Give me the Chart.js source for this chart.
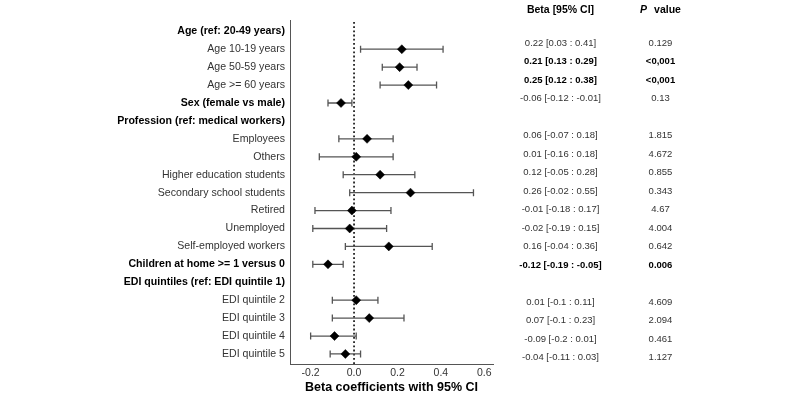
<!DOCTYPE html>
<html><head><meta charset="utf-8">
<script src="https://cdn.jsdelivr.net/npm/chart.js@4"></script>
<style>html,body{margin:0;padding:0;background:#fff}#wrap{width:800px;height:400px}</style>
</head><body><div id="wrap"><canvas id="c" width="800" height="400"></canvas></div>
<script>
const rowLabels = [
  'Age (ref: 20-49 years)', 'Age 10-19 years', 'Age 50-59 years', 'Age >= 60 years',
  'Sex (female vs male)', 'Profession (ref: medical workers)', 'Employees', 'Others',
  'Higher education students', 'Secondary school students', 'Retired', 'Unemployed',
  'Self-employed workers', 'Children at home >= 1 versus 0', 'EDI quintiles (ref: EDI quintile 1)',
  'EDI quintile 2', 'EDI quintile 3', 'EDI quintile 4', 'EDI quintile 5'
];
const boldLabelRows = [0, 4, 5, 13, 14];
const beta   = [null, 0.22, 0.21, 0.25, -0.06, null, 0.06, 0.01, 0.12, 0.26, -0.01, -0.02, 0.16, -0.12, null, 0.01, 0.07, -0.09, -0.04];
const ciLow  = [null, 0.03, 0.13, 0.12, -0.12, null, -0.07, -0.16, -0.05, -0.02, -0.18, -0.19, -0.04, -0.19, null, -0.1, -0.1, -0.2, -0.11];
const ciHigh = [null, 0.41, 0.29, 0.38, -0.01, null, 0.18, 0.18, 0.28, 0.55, 0.17, 0.15, 0.36, -0.05, null, 0.11, 0.23, 0.01, 0.03];
const pValues = ['', '0.129', '<0,001', '<0,001', '0.13', '', '1.815', '4.672', '0.855', '0.343', '4.67', '4.004', '0.642', '0.006', '', '4.609', '2.094', '0.461', '1.127'];
const boldTableRows = [2, 3, 13];
const tickValues = [-0.2, 0, 0.2, 0.4, 0.6];
const tickLabels = ['-0.2', '0.0', '0.2', '0.4', '0.6'];
const xTitle = 'Beta coefficients with 95% CI';
const headerBeta = 'Beta [95% CI]';
const headerP = ['P', 'value'];

const FONT = '"Liberation Sans", Arial, sans-serif';

const points = [];
beta.forEach((b, i) => { if (b !== null) points.push({ x: b, y: i }); });

const forestPlugin = {
  id: 'forest',
  beforeDatasetsDraw(chart) {
    const { ctx, chartArea, scales: { x, y } } = chart;
    ctx.save();
    const x0 = x.getPixelForValue(0);
    ctx.strokeStyle = '#222';
    ctx.lineWidth = 1.8;
    ctx.setLineDash([1.8, 2.4]);
    ctx.beginPath();
    ctx.moveTo(x0, chartArea.top + 2);
    ctx.lineTo(x0, chartArea.bottom);
    ctx.stroke();
    ctx.setLineDash([]);
    ctx.strokeStyle = '#555';
    ctx.lineWidth = 1.3;
    beta.forEach((b, i) => {
      if (b === null) return;
      const yp = y.getPixelForValue(i);
      const xl = x.getPixelForValue(ciLow[i]);
      const xh = x.getPixelForValue(ciHigh[i]);
      ctx.beginPath();
      ctx.moveTo(xl, yp); ctx.lineTo(xh, yp);
      ctx.moveTo(xl, yp - 3.5); ctx.lineTo(xl, yp + 3.5);
      ctx.moveTo(xh, yp - 3.5); ctx.lineTo(xh, yp + 3.5);
      ctx.stroke();
    });
    ctx.restore();
  },
  afterDraw(chart) {
    const { ctx } = chart;
    const yt = chart.scales.yTable;
    const betaX = 560.5, pX = 660.5;
    ctx.save();
    ctx.textBaseline = 'middle';
    ctx.textAlign = 'center';
    const hy = yt.getPixelForValue(-0.8);
    ctx.fillStyle = '#000';
    ctx.font = 'bold 10.5px ' + FONT;
    ctx.fillText(headerBeta, betaX, hy);
    ctx.font = 'italic bold 10.5px ' + FONT;
    const w1 = ctx.measureText(headerP[0]).width;
    ctx.font = 'bold 10.5px ' + FONT;
    const w2 = ctx.measureText(headerP[1]).width;
    const gap = 7;
    let sx = pX - (w1 + gap + w2) / 2;
    ctx.textAlign = 'left';
    ctx.font = 'italic bold 10.5px ' + FONT;
    ctx.fillText(headerP[0], sx, hy);
    ctx.font = 'bold 10.5px ' + FONT;
    ctx.fillText(headerP[1], sx + w1 + gap, hy);
    ctx.textAlign = 'center';
    beta.forEach((b, i) => {
      if (b === null) return;
      const yp = yt.getPixelForValue(i);
      const bold = boldTableRows.includes(i);
      ctx.font = (bold ? 'bold ' : '') + '9.5px ' + FONT;
      ctx.fillStyle = bold ? '#000' : '#333';
      ctx.fillText(`${b} [${ciLow[i]} : ${ciHigh[i]}]`, betaX, yp);
      ctx.fillText(pValues[i], pX, yp);
    });
    ctx.restore();
  }
};

new Chart(document.getElementById('c'), {
  type: 'scatter',
  data: {
    datasets: [{
      data: points,
      pointStyle: 'rectRot',
      pointRadius: 4.5,
      pointBackgroundColor: '#000',
      pointBorderColor: '#000',
      pointBorderWidth: 0.5,
      yAxisID: 'y'
    }]
  },
  options: {
    responsive: false,
    animation: false,
    events: [],
    layout: { padding: { top: 20, right: 307, left: 0, bottom: 0 } },
    plugins: { legend: { display: false }, tooltip: { enabled: false } },
    scales: {
      x: {
        type: 'linear', min: -0.295, max: 0.64, position: 'bottom',
        afterBuildTicks: ax => { ax.ticks = tickValues.map(v => ({ value: v })); },
        afterFit: ax => { ax.height = 36; },
        grid: { display: false, drawTicks: false },
        border: { display: true, color: '#555', width: 1 },
        ticks: {
          padding: 3, color: '#333', font: { family: FONT, size: 10.5 },
          autoSkip: false, maxRotation: 0,
          callback: (v, i) => tickLabels[i]
        },
        title: {
          display: true, text: xTitle, color: '#000',
          font: { family: FONT, size: 12.5, weight: 'bold' },
          padding: { top: 0, bottom: 5 }
        }
      },
      y: {
        type: 'linear', reverse: true, min: -0.63, max: 18.56, position: 'left',
        afterBuildTicks: ax => { ax.ticks = rowLabels.map((_, i) => ({ value: i })); },
        afterFit: ax => { ax.width = 290; },
        grid: { display: false, drawTicks: false },
        border: { display: true, color: '#555', width: 1 },
        ticks: {
          autoSkip: false, padding: 5,
          callback: v => rowLabels[v],
          font: ctx => ({ family: FONT, size: 10.6, weight: boldLabelRows.includes(ctx.index) ? 'bold' : 'normal' }),
          color: ctx => boldLabelRows.includes(ctx.index) ? '#000' : '#333'
        }
      },
      yTable: { type: 'linear', reverse: true, min: -0.26, max: 18.34, display: false }
    }
  },
  plugins: [forestPlugin]
});
</script>
</body></html>
